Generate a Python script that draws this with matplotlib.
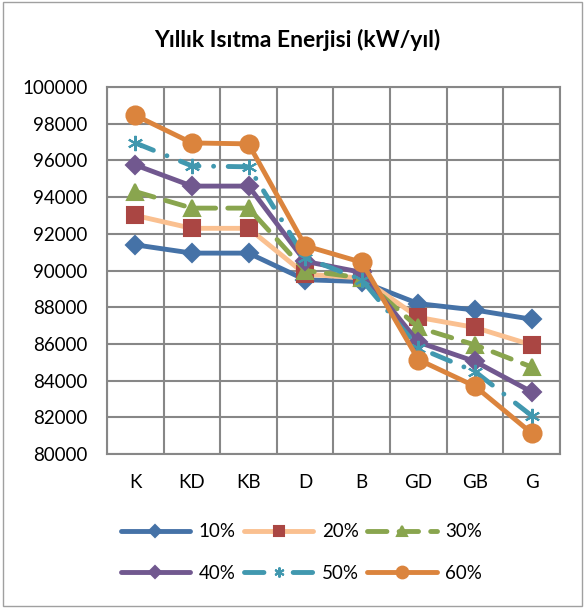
import matplotlib.pyplot as plt
import matplotlib.patches as patches
import numpy as np

plt.rcParams['font.family'] = ['Lato', 'DejaVu Sans']

# categories (orientation) and series
categories = ["K", "KD", "KB", "D", "B", "GD", "GB", "G"]
labels = ["10%", "20%", "30%", "40%", "50%", "60%"]

s10 = [91400, 90950, 90950, 89500, 89400, 88200, 87850, 87350]
s20 = [93000, 92300, 92300, 89800, 89600, 87450, 86900, 85950]
s30 = [94300, 93400, 93400, 90000, 89600, 86900, 85950, 84750]
s40 = [95750, 94600, 94600, 90500, 89900, 86100, 85050, 83400]
s50 = [96950, 95700, 95650, 90700, 89500, 85800, 84500, 82100]
s60 = [98450, 96950, 96900, 91350, 90450, 85150, 83700, 81150]

series = [s10, s20, s30, s40, s50, s60]

# style per series: line colour, marker colour, marker, markersize, dashes
styles = [
    ("#4572A7", "#4572A7", "D", 9, None),
    ("#FAC090", "#AA4643", "s", 12, None),
    ("#89A54E", "#89A54E", "^", 12, (4, 2.5)),
    ("#71588F", "#71588F", "D", 9, None),
    ("#4198AF", "#4198AF", (6, 2, 0), 11, (4, 3, 0.01, 3)),
    ("#DB843D", "#DB843D", "o", 13, None),
]

fig = plt.figure(figsize=(5.85, 6.08), dpi=100)
ax = fig.add_axes([0.183, 0.253, 0.774, 0.604])

x = np.arange(len(categories))
handles = []
for vals, lab, (lc, mc, mk, ms, dash) in zip(series, labels, styles):
    line, = ax.plot(x, vals, color=lc, lw=3.5, marker=mk, markersize=ms,
                    markerfacecolor=mc, markeredgecolor=mc, markeredgewidth=1.5,
                    label=lab, solid_capstyle="round", dash_capstyle="round",
                    solid_joinstyle="round")
    if dash is not None:
        line.set_dashes(dash)
    handles.append(line)

ax.set_xlim(-0.5, len(categories) - 0.5)
ax.set_ylim(80000, 100000)
ax.set_yticks(np.arange(80000, 100001, 2000))
ax.set_xticks(x)
ax.set_xticklabels(categories)
ax.set_xticks(np.arange(-0.5, len(categories), 1), minor=True)
ax.tick_params(axis="both", which="both", length=0, labelsize=13.5, colors="black")
ax.tick_params(axis="x", pad=14)
ax.tick_params(axis="y", pad=14)
ax.grid(True, which="major", axis="y", color="#878787", lw=1.5)
ax.grid(True, which="minor", axis="x", color="#878787", lw=1.5)
ax.set_axisbelow(True)
for sp in ax.spines.values():
    sp.set_color("#878787")
    sp.set_linewidth(1.5)

fig.text(0.508, 0.934, "Yıllık Isıtma Enerjisi (kW/yıl)", ha="center", va="center",
         fontsize=16.5, fontweight="bold")

# legend filled row by row like the original
order = [0, 3, 1, 4, 2, 5]
leg = fig.legend([handles[i] for i in order], [labels[i] for i in order],
                 loc="center", bbox_to_anchor=(0.515, 0.091), ncol=3, frameon=False,
                 fontsize=13.5, handlelength=3.7, columnspacing=0.45,
                 handletextpad=0.45, labelspacing=1.3, markerscale=0.65)

fig.patches.append(patches.Rectangle((0.005, 0.004), 0.99, 0.992, transform=fig.transFigure,
                                     fill=False, edgecolor="#A0A0A0", lw=1))

fig.savefig("out.png", dpi=100)
